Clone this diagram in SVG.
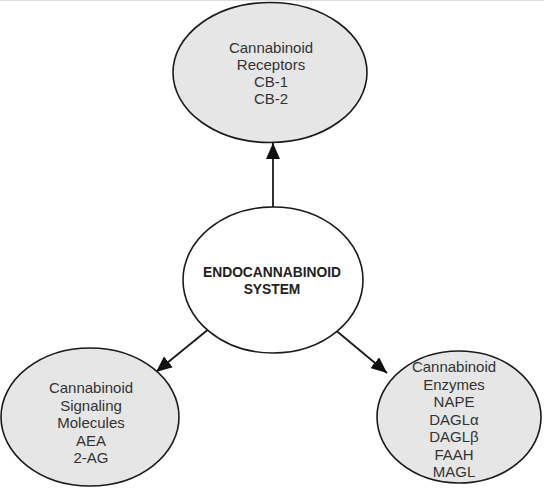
<svg xmlns="http://www.w3.org/2000/svg" width="544" height="495" viewBox="0 0 544 495">
<style>
.node ellipse{fill:#e6e6e6;stroke:#1a1a1a;stroke-width:1.6}
.node ellipse.c{fill:#ffffff}
text{font-family:"Liberation Sans",Arial,sans-serif;font-size:15px;fill:#333;text-anchor:middle}
text.b{font-weight:bold;font-size:13.8px;fill:#222}
.conn line{stroke:#1a1a1a;stroke-width:1.8;marker-end:url(#ah)}
</style>
<defs>
<marker id="ah" markerUnits="userSpaceOnUse" markerWidth="18" markerHeight="14" refX="16" refY="7" orient="auto">
<path d="M0,0 L16,7 L0,14 Z" fill="#111"/>
</marker>
</defs>
<rect x="0" y="0" width="544" height="495" fill="#fff"/>
<line x1="0" y1="0.5" x2="544" y2="0.5" stroke="#ddd" stroke-width="1"/>
<g class="conn">
<line x1="273" y1="207" x2="273" y2="143"/>
<line x1="210" y1="328" x2="156" y2="372"/>
<line x1="333" y1="328" x2="387" y2="373"/>
</g>
<g id="receptors" class="node">
<ellipse cx="270" cy="72.5" rx="97" ry="70"/>
<text x="271" y="53">Cannabinoid</text>
<text x="271" y="70">Receptors</text>
<text x="271" y="87">CB-1</text>
<text x="271" y="104">CB-2</text>
</g>
<g id="system" class="node">
<ellipse class="c" cx="273" cy="280" rx="90" ry="73"/>
<text class="b" x="272" y="277">ENDOCANNABINOID</text>
<text class="b" x="272" y="294">SYSTEM</text>
</g>
<g id="signaling" class="node">
<ellipse cx="90" cy="417" rx="89" ry="69"/>
<text x="91" y="393">Cannabinoid</text>
<text x="91" y="410.5">Signaling</text>
<text x="91" y="428">Molecules</text>
<text x="91" y="445.5">AEA</text>
<text x="91" y="463">2-AG</text>
</g>
<g id="enzymes" class="node">
<ellipse cx="459" cy="417" rx="82" ry="66"/>
<text x="454" y="372">Cannabinoid</text>
<text x="454" y="389.5">Enzymes</text>
<text x="454" y="407">NAPE</text>
<text x="454" y="424.5">DAGLα</text>
<text x="454" y="442">DAGLβ</text>
<text x="454" y="459.5">FAAH</text>
<text x="454" y="477">MAGL</text>
</g>
</svg>
